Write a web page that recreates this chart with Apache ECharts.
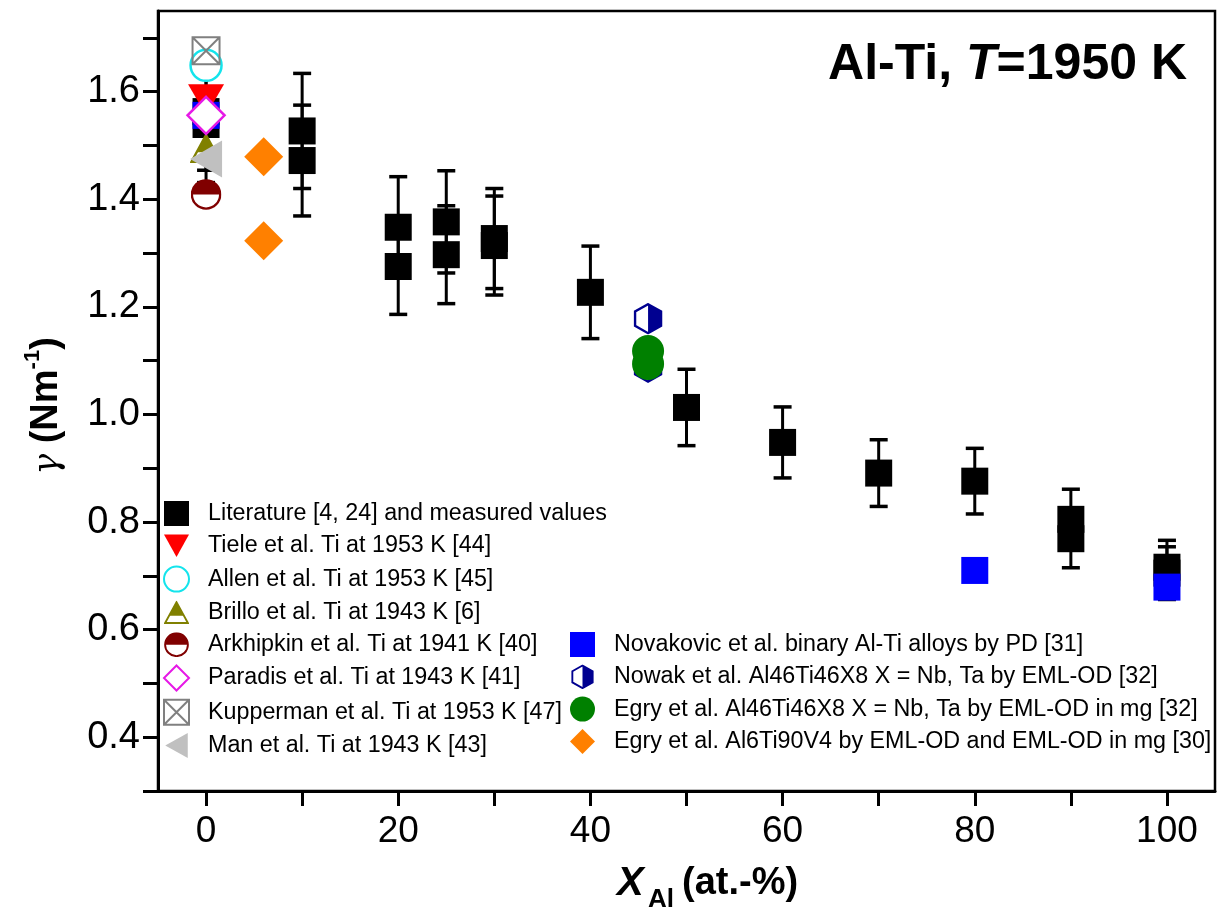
<!DOCTYPE html>
<html>
<head>
<meta charset="utf-8">
<script src="https://cdn.jsdelivr.net/npm/echarts@6/dist/echarts.min.js"></script>
<style>html,body{margin:0;padding:0;background:#fff}#c{width:1222px;height:917px}</style>
</head>
<body>
<div id="c"></div>
<script>
// ---------- data ----------
const litX   = [0, 0, 10, 10, 20, 20, 25, 25, 30, 30, 40, 50, 60, 70, 80, 90, 90, 100, 100];
const litY   = [1.563, 1.539, 1.527, 1.472, 1.348, 1.275, 1.358, 1.297, 1.327, 1.314, 1.227, 1.013, 0.948, 0.891, 0.876, 0.805, 0.769, 0.716, 0.705];
const litErr = [0.109, 0.108, 0.107, 0.103, 0.094, 0.089, 0.095, 0.091, 0.093, 0.092, 0.086, 0.071, 0.066, 0.062, 0.061, 0.056, 0.054, 0.050, 0.049];

const tieleX = [0],  tieleY = [1.585];
const allenX = [0],  allenY = [1.649];
const brilloX = [0], brilloY = [1.495];
const arkhX = [0],   arkhY = [1.409];
const paradisX = [0], paradisY = [1.556];
const kupX = [0],    kupY = [1.676];
const manX = [0],    manY = [1.475];
const novX = [0, 80, 100],  novY = [1.556, 0.710, 0.679];
const nowakX = [46, 46],    nowakY = [1.178, 1.088];
const egryMgX = [46, 46],   egryMgY = [1.118, 1.094];
const egryTiX = [6, 6],     egryTiY = [1.479, 1.323];

const xTickValues  = [0, 10, 20, 30, 40, 50, 60, 70, 80, 90, 100];
const xLabelValues = [0, 20, 40, 60, 80, 100];
const yTickValues  = [0.3, 0.4, 0.5, 0.6, 0.7, 0.8, 0.9, 1.0, 1.1, 1.2, 1.3, 1.4, 1.5, 1.6, 1.7];
const yLabelValues = [0.4, 0.6, 0.8, 1.0, 1.2, 1.4, 1.6];

const names = [
  'Literature [4, 24] and measured values',
  'Tiele et al. Ti at 1953 K [44]',
  'Allen et al. Ti at 1953 K [45]',
  'Brillo et al. Ti at 1943 K [6]',
  'Arkhipkin et al. Ti at 1941 K [40]',
  'Paradis et al. Ti at 1943 K [41]',
  'Kupperman et al. Ti at 1953 K [47]',
  'Man et al. Ti at 1943 K [43]',
  'Novakovic et al. binary Al-Ti alloys by PD [31]',
  'Nowak et al. Al46Ti46X8 X = Nb, Ta by EML-OD [32]',
  'Egry et al. Al46Ti46X8 X = Nb, Ta by EML-OD in mg [32]',
  'Egry et al. Al6Ti90V4 by EML-OD and EML-OD in mg [30]'
];

// ---------- helpers ----------
const FONT = '"Liberation Sans", Arial, Helvetica, sans-serif';
const zip = (xs, ys) => xs.map((x, i) => [x, ys[i]]);
const svgUri = s => 'image://data:image/svg+xml;charset=utf-8,' + encodeURIComponent(s);

const arkhIcon = svgUri('<svg xmlns="http://www.w3.org/2000/svg" width="64" height="64" viewBox="0 0 32 32">' +
  '<circle cx="16" cy="16" r="14.6" fill="#fff" stroke="#800000" stroke-width="2.4"/>' +
  '<path d="M1.4,16 A14.6,14.6 0 0 1 30.6,16 Z" fill="#800000"/></svg>');
const brilloIcon = svgUri('<svg xmlns="http://www.w3.org/2000/svg" width="64" height="60" viewBox="0 0 32 30">' +
  '<polygon points="16,1.8 30.6,28.6 1.4,28.6" fill="#fff" stroke="#808000" stroke-width="2.4" stroke-linejoin="miter"/>' +
  '<polygon points="16,1.8 25.5,19.2 6.5,19.2" fill="#808000"/></svg>');
const nowakIcon = svgUri('<svg xmlns="http://www.w3.org/2000/svg" width="60" height="64" viewBox="0 0 30 32">' +
  '<polygon points="15,1.5 28,8.8 28,23.2 15,30.5 2,23.2 2,8.8" fill="#fff" stroke="#000090" stroke-width="2.4"/>' +
  '<polygon points="15,1.5 28,8.8 28,23.2 15,30.5" fill="#000090"/></svg>');
const downTri = 'path://M0,0L20,0L10,18Z';
const leftTri = 'path://M18,0L18,20L0,10Z';
const kupPath = 'path://M0,0L20,0L20,20L0,20Z M0,0L20,20 M20,0L0,20';

function scatter(name, data, symbol, size, itemStyle, z) {
  return { type: 'scatter', name, data, symbol, symbolSize: size,
           itemStyle: Object.assign({ opacity: 1 }, itemStyle),
           z: z || 3, emphasis: { disabled: true }, silent: true };
}

// ---------- chart ----------
const chart = echarts.init(document.getElementById('c'), null, { renderer: 'canvas' });

const legendText = { fontFamily: FONT, fontSize: 23.3, color: '#000', padding: [0, 0, 0, 14], lineHeight: 25 };

const option = {
  animation: false,
  backgroundColor: '#fff',
  textStyle: { fontFamily: FONT },
  grid: { left: 158, right: 7, top: 11, bottom: 126, show: true, borderColor: '#000', borderWidth: 2.5, backgroundColor: 'transparent' },
  xAxis: {
    type: 'value', min: -5, max: 105,
    axisLine: { show: true, onZero: false, lineStyle: { color: '#000', width: 3 } },
    axisTick: { show: true, inside: false, length: 15, customValues: xTickValues, lineStyle: { color: '#000', width: 3 } },
    axisLabel: { customValues: xLabelValues, fontSize: 37, color: '#000', margin: 22, fontFamily: FONT },
    splitLine: { show: false }
  },
  yAxis: {
    type: 'value', min: 0.3, max: 1.75,
    axisLine: { show: true, onZero: false, lineStyle: { color: '#000', width: 3 } },
    axisTick: { show: true, inside: false, length: 15, customValues: yTickValues, lineStyle: { color: '#000', width: 3 } },
    axisLabel: { customValues: yLabelValues, fontSize: 38, color: '#000', margin: 18, fontFamily: FONT,
                 formatter: v => v.toFixed(1) },
    splitLine: { show: false }
  },
  legend: [
    { orient: 'vertical', left: 163, top: 501, itemWidth: 25, itemHeight: 25, itemGap: 7.3,
      selectedMode: false, padding: 0, textStyle: legendText,
      data: [
        { name: names[0], icon: 'rect' },
        { name: names[1], icon: downTri },
        { name: names[2], icon: 'circle' },
        { name: names[3], icon: brilloIcon },
        { name: names[4], icon: arkhIcon },
        { name: names[5], icon: 'diamond' },
        { name: names[6], icon: kupPath },
        { name: names[7], icon: leftTri }
      ] },
    { orient: 'vertical', left: 570, top: 632, itemWidth: 25, itemHeight: 25, itemGap: 7.3,
      selectedMode: false, padding: 0, textStyle: legendText,
      data: [
        { name: names[8], icon: 'rect' },
        { name: names[9], icon: nowakIcon },
        { name: names[10], icon: 'circle' },
        { name: names[11], icon: 'diamond' }
      ] }
  ],
  graphic: [
    { type: 'text', right: 35, top: 40, z: 10,
      style: { text: '{b|Al-Ti, }{i|T}{b|=1950 K}', fill: '#000',
        rich: { b: { fontFamily: FONT, fontSize: 50, fontWeight: 'bold' },
                i: { fontFamily: FONT, fontSize: 50, fontWeight: 'bold', fontStyle: 'italic' } } } },
    // y axis title
    { type: 'text', x: 44, y: 406, rotation: Math.PI / 2, z: 10,
      style: { text: '{g|γ}{b| (Nm}{s|-1}{b|)}', fill: '#000', align: 'center', verticalAlign: 'middle',
        rich: { g: { fontFamily: '"DejaVu Serif", serif', fontSize: 35, fontStyle: 'italic', verticalAlign: 'bottom', lineHeight: 44 },
                b: { fontFamily: FONT, fontSize: 38, fontWeight: 'bold', verticalAlign: 'bottom', lineHeight: 44 },
                s: { fontFamily: FONT, fontSize: 22, fontWeight: 'bold', verticalAlign: 'top', lineHeight: 44 } } } },
    // x axis title
    { type: 'text', x: 617, y: 884, z: 10,
      style: { text: 'X', fill: '#000', verticalAlign: 'middle', fontFamily: FONT, fontSize: 40, fontWeight: 'bold', fontStyle: 'italic' } },
    { type: 'text', x: 648, y: 900, z: 10,
      style: { text: 'Al', fill: '#000', verticalAlign: 'middle', fontFamily: FONT, fontSize: 26, fontWeight: 'bold' } },
    { type: 'text', x: 682, y: 884, z: 10,
      style: { text: '(at.-%)', fill: '#000', verticalAlign: 'middle', fontFamily: FONT, fontSize: 38, fontWeight: 'bold' } }
  ],
  series: [
    { type: 'custom', name: 'errbars', silent: true, z: 2,
      data: litX.map((x, i) => [x, litY[i], litErr[i]]),
      renderItem: function (params, api) {
        const x = api.value(0), y = api.value(1), e = api.value(2);
        const t = api.coord([x, y + e]), b = api.coord([x, y - e]);
        const hw = 9, st = { stroke: '#000', lineWidth: 3 };
        return { type: 'group', children: [
          { type: 'line', shape: { x1: t[0], y1: t[1], x2: b[0], y2: b[1] }, style: st },
          { type: 'line', shape: { x1: t[0] - hw, y1: t[1], x2: t[0] + hw, y2: t[1] }, style: { stroke: '#000', lineWidth: 3.5 } },
          { type: 'line', shape: { x1: b[0] - hw, y1: b[1], x2: b[0] + hw, y2: b[1] }, style: { stroke: '#000', lineWidth: 3.5 } }
        ] };
      } },
    scatter(names[0], zip(litX, litY), 'rect', 27, { color: '#000' }, 3),
    scatter(names[8], zip(novX, novY), 'rect', 27, { color: '#0000ff' }, 4),
    scatter(names[1], zip(tieleX, tieleY), downTri, [36, 31], { color: '#ff0000' }, 4),
    scatter(names[2], zip(allenX, allenY), 'circle', 31, { color: '#fff', borderColor: '#14e4ec', borderWidth: 2.5 }, 4),
    scatter(names[3], zip(brilloX, brilloY), brilloIcon, [32, 30], {}, 4),
    scatter(names[4], zip(arkhX, arkhY), arkhIcon, 31, {}, 4),
    scatter(names[5], zip(paradisX, paradisY), 'diamond', 37, { color: '#fff', borderColor: '#e619e6', borderWidth: 2.5 }, 4),
    scatter(names[6], zip(kupX, kupY), kupPath, 27, { color: 'rgba(0,0,0,0)', borderColor: '#808080', borderWidth: 2 }, 4),
    scatter(names[7], zip(manX, manY), leftTri, [32, 37], { color: '#c0c0c0' }, 4),
    scatter(names[9], zip(nowakX, nowakY), nowakIcon, [30, 32], {}, 4),
    scatter(names[10], zip(egryMgX, egryMgY), 'circle', 32, { color: '#008000' }, 4),
    scatter(names[11], zip(egryTiX, egryTiY), 'diamond', 39, { color: '#ff8000' }, 4)
  ]
};
chart.setOption(option);
</script>
</body>
</html>
